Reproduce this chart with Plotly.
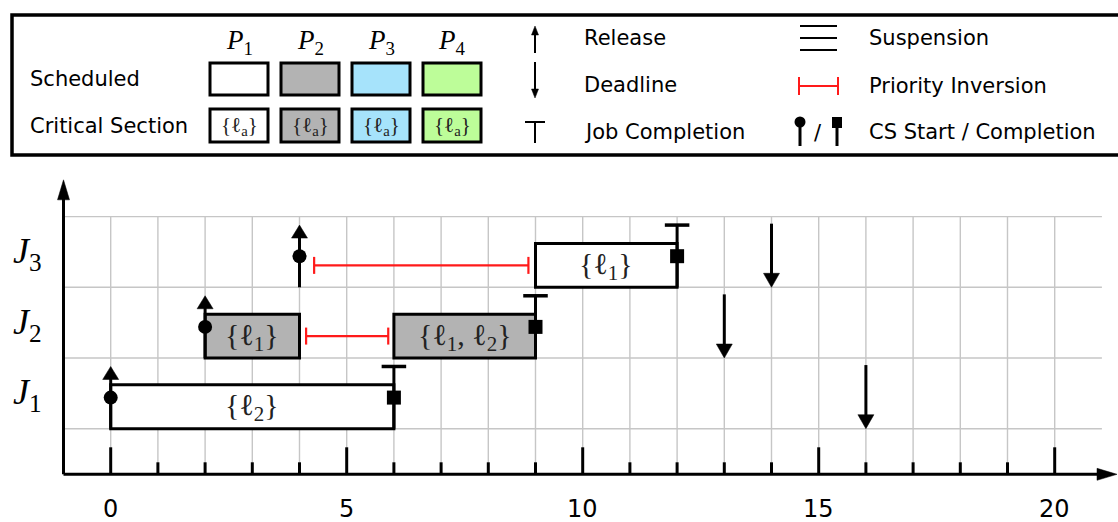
import plotly.graph_objects as go

# ------------------------------------------------------------------ data
job_labels = ["<i>J</i><sub>1</sub>", "<i>J</i><sub>2</sub>", "<i>J</i><sub>3</sub>"]
release = [0, 2, 4]
deadline = [16, 13, 14]
completion = [6, 9, 12]
cs_start = [0, 2, 4]
cs_end = [6, 9, 12]

seg_job = [1, 2, 2, 3]
seg_start = [0, 2, 6, 9]
seg_end = [6, 4, 9, 12]
seg_proc = [1, 2, 2, 1]
seg_locks = ["{ℓ<sub>2</sub>}", "{ℓ<sub>1</sub>}",
             "{ℓ<sub>1</sub>, ℓ<sub>2</sub>}", "{ℓ<sub>1</sub>}"]

pi_job = [2, 3]
pi_start = [4.14, 4.31]
pi_end = [5.88, 8.85]

x_ticks = [0, 5, 10, 15, 20]
x_tick_labels = ["0", "5", "10", "15", "20"]
grid_x = list(range(0, 21))
grid_y = [0, 1, 2, 3]

proc_names = ["<i>P</i><sub>1</sub>", "<i>P</i><sub>2</sub>", "<i>P</i><sub>3</sub>", "<i>P</i><sub>4</sub>"]
proc_colors = ["#ffffff", "#b3b3b3", "#a6e3fb", "#bdfd99"]
legend_rows = ["Scheduled", "Critical Section"]
legend_mid = ["Release", "Deadline", "Job Completion"]
legend_right = ["Suspension", "Priority Inversion", "CS Start / Completion"]

# ------------------------------------------------------------------ style
W, H = 1118, 522
SX, SY = 47.2, 70.7          # px per data unit
X0PX, Y0PX = 110.7, 428.7     # px of data origin
XR = [-X0PX / SX, (W - X0PX) / SX]
YR = [(Y0PX - H) / SY, Y0PX / SY]
BOX_H = 0.62
MARK_Y = 0.44
TOP_Y = 0.88
PI_Y = 0.31
AX_X = -1.0
AX_Y = -0.645
SANS = "DejaVu Sans"
SERIF = "Liberation Serif, DejaVu Serif, serif"

shapes = []
annotations = []


def line(x0, y0, x1, y1, color="black", width=3, ref=("x", "y"), layer="below"):
    shapes.append(dict(type="line", xref=ref[0], yref=ref[1], x0=x0, y0=y0, x1=x1, y1=y1,
                       line=dict(color=color, width=width), layer=layer))


def head(tx, ty, w_px, h_px, d, ref=("x", "y"), sx=SX, sy=SY, layer="below"):
    w = w_px / sx / 2
    if d in ("up", "down"):
        hh = h_px / sy * (1 if d == "up" else -1)
        pts = [(tx, ty), (tx - w, ty - hh), (tx + w, ty - hh)]
    else:
        hw = h_px / sx
        ww = w_px / sy / 2
        pts = [(tx, ty), (tx - hw, ty - ww), (tx - hw, ty + ww)]
    path = "M {},{} L {},{} L {},{} Z".format(*[v for p in pts for v in p])
    shapes.append(dict(type="path", xref=ref[0], yref=ref[1], path=path,
                       fillcolor="black", line=dict(color="black", width=0.5), layer=layer))


# grid
for gx in grid_x:
    line(gx, AX_Y, gx, grid_y[-1], color="#c6c6c6", width=1.4)
for gy in grid_y:
    line(AX_X, gy, 21, gy, color="#c6c6c6", width=1.4)

# axes
line(AX_X, AX_Y, 21.32 - 18 / SX, AX_Y, width=3)
head(21.32, AX_Y, 12, 20, "right")
line(AX_X, AX_Y, AX_X, 3.52 - 18 / SY, width=3)
head(AX_X, 3.52, 12, 20, "up")
for t in grid_x:
    tl = 27 if t in x_ticks else 12
    line(t, AX_Y, t, AX_Y + tl / SY, width=3)
for t, lab in zip(x_ticks, x_tick_labels):
    annotations.append(dict(x=t, y=(Y0PX - 509) / SY, text=lab, showarrow=False,
                            font=dict(family=SANS, size=24, color="black")))

# scheduled segments
for j, s, e, p, lk in zip(seg_job, seg_start, seg_end, seg_proc, seg_locks):
    base = j - 1
    shapes.append(dict(type="rect", xref="x", yref="y", x0=s, x1=e, y0=base, y1=base + BOX_H,
                       fillcolor=proc_colors[p - 1], line=dict(color="black", width=3), layer="below"))
    annotations.append(dict(x=(s + e) / 2, y=base + 0.30, text=lk, showarrow=False,
                            font=dict(family=SERIF, size=30, color="#222222")))

# release arrows
for k, r in enumerate(release):
    base = k
    line(r, base, r, base + TOP_Y - 10 / SY, width=3)
    head(r, base + TOP_Y, 16, 13, "up")

# completion
for k, c in enumerate(completion):
    base = k
    line(c, base, c, base + TOP_Y, width=3)
    line(c - 0.26, base + TOP_Y, c + 0.26, base + TOP_Y, width=3.5)

# deadlines
for k, d in enumerate(deadline):
    base = k
    line(d, base + 0.90, d, base + 10 / SY, width=3)
    head(d, base, 16, 14, "down")

# priority inversion
for j, s, e in zip(pi_job, pi_start, pi_end):
    y = j - 1 + PI_Y
    line(s, y, e, y, color="#ff1a1a", width=2.2)
    line(s, y - 8.5 / SY, s, y + 8.5 / SY, color="#ff1a1a", width=2.2)
    line(e, y - 8.5 / SY, e, y + 8.5 / SY, color="#ff1a1a", width=2.2)

# job labels
for k, lab in enumerate(job_labels):
    annotations.append(dict(x=-1.77, y=k + 0.48, text=lab, showarrow=False,
                            font=dict(family=SERIF, size=36, color="black")))

traces = [
    go.Scatter(x=cs_start, y=[k + MARK_Y for k in range(len(cs_start))], mode="markers",
               marker=dict(symbol="circle", size=14, color="black"), hoverinfo="skip"),
    go.Scatter(x=cs_end, y=[k + MARK_Y for k in range(len(cs_end))], mode="markers",
               marker=dict(symbol="square", size=14, color="black"), hoverinfo="skip"),
]

# ------------------------------------------------------------------ legend (pixel coords on x2/y2)
L = ("x2", "y2")
shapes.append(dict(type="rect", xref="x2", yref="y2", x0=12, x1=1130, y0=15, y1=155,
                   line=dict(color="black", width=3.5), fillcolor="rgba(0,0,0,0)", layer="above"))
box_x = [210, 281, 352, 423]
for i, (nm, col) in enumerate(zip(proc_names, proc_colors)):
    x0 = box_x[i]
    annotations.append(dict(xref="x2", yref="y2", x=x0 + 29, y=42, text=nm, showarrow=False,
                            font=dict(family=SERIF, size=27, color="black")))
    shapes.append(dict(type="rect", xref="x2", yref="y2", x0=x0, x1=x0 + 58, y0=63, y1=95,
                       fillcolor=col, line=dict(color="black", width=3), layer="above"))
    shapes.append(dict(type="rect", xref="x2", yref="y2", x0=x0, x1=x0 + 58, y0=109, y1=142,
                       fillcolor=col, line=dict(color="black", width=3), layer="above"))
    annotations.append(dict(xref="x2", yref="y2", x=x0 + 29, y=126, text="{ℓ<sub>a</sub>}",
                            showarrow=False, font=dict(family=SERIF, size=21, color="#222222")))
for txt, yy in zip(legend_rows, [79, 126]):
    annotations.append(dict(xref="x2", yref="y2", x=28, y=yy, text=txt, showarrow=False,
                            xanchor="left", font=dict(family=SANS, size=21, color="black")))
for txt, yy in zip(legend_mid, [38, 85, 132]):
    annotations.append(dict(xref="x2", yref="y2", x=582, y=yy, text=txt, showarrow=False,
                            xanchor="left", font=dict(family=SANS, size=21, color="black")))
for txt, yy in zip(legend_right, [38, 86, 132]):
    annotations.append(dict(xref="x2", yref="y2", x=867, y=yy, text=txt, showarrow=False,
                            xanchor="left", font=dict(family=SANS, size=21, color="black")))

# legend symbols
line(535, 53, 535, 34, width=2, ref=L, layer="above")
shapes.append(dict(type="path", xref="x2", yref="y2", path="M 535,26 L 531.5,35 L 538.5,35 Z",
                   fillcolor="black", line=dict(color="black", width=0.5), layer="above"))
line(535, 62, 535, 90, width=2, ref=L, layer="above")
shapes.append(dict(type="path", xref="x2", yref="y2", path="M 535,98 L 531.5,89 L 538.5,89 Z",
                   fillcolor="black", line=dict(color="black", width=0.5), layer="above"))
line(535, 122, 535, 143, width=2, ref=L, layer="above")
line(525, 122, 545, 122, width=2, ref=L, layer="above")
for yy in [26, 38, 50]:
    line(800, yy, 837, yy, width=2, ref=L, layer="above")
line(799, 86, 838, 86, color="#ff1a1a", width=2, ref=L, layer="above")
line(799, 77, 799, 95, color="#ff1a1a", width=2, ref=L, layer="above")
line(838, 77, 838, 95, color="#ff1a1a", width=2, ref=L, layer="above")
line(800, 122, 800, 146, width=3, ref=L, layer="above")
shapes.append(dict(type="circle", xref="x2", yref="y2", x0=794.5, x1=805.5, y0=116.5, y1=127.5,
                   fillcolor="black", line=dict(color="black", width=0), layer="above"))
line(837, 122, 837, 146, width=3, ref=L, layer="above")
shapes.append(dict(type="rect", xref="x2", yref="y2", x0=832, x1=842, y0=117, y1=128,
                   fillcolor="black", line=dict(color="black", width=0), layer="above"))
annotations.append(dict(xref="x2", yref="y2", x=818, y=133, text="/", showarrow=False,
                        font=dict(family=SANS, size=21, color="black")))

fig = go.Figure(traces)
fig.update_layout(
    width=W, height=H, autosize=False,
    margin=dict(l=0, r=0, t=0, b=0, pad=0),
    plot_bgcolor="white", paper_bgcolor="white",
    showlegend=False,
    xaxis=dict(range=XR, domain=[0, 1], visible=False, showgrid=False, zeroline=False, fixedrange=True),
    yaxis=dict(range=YR, domain=[0, 1], visible=False, showgrid=False, zeroline=False, fixedrange=True),
    xaxis2=dict(range=[0, W], domain=[0, 1], overlaying="x", anchor="y2", visible=False,
                showgrid=False, zeroline=False),
    yaxis2=dict(range=[H, 0], domain=[0, 1], overlaying="y", anchor="x2", visible=False,
                showgrid=False, zeroline=False),
    shapes=shapes,
    annotations=annotations,
)
fig.write_html("out.html")
